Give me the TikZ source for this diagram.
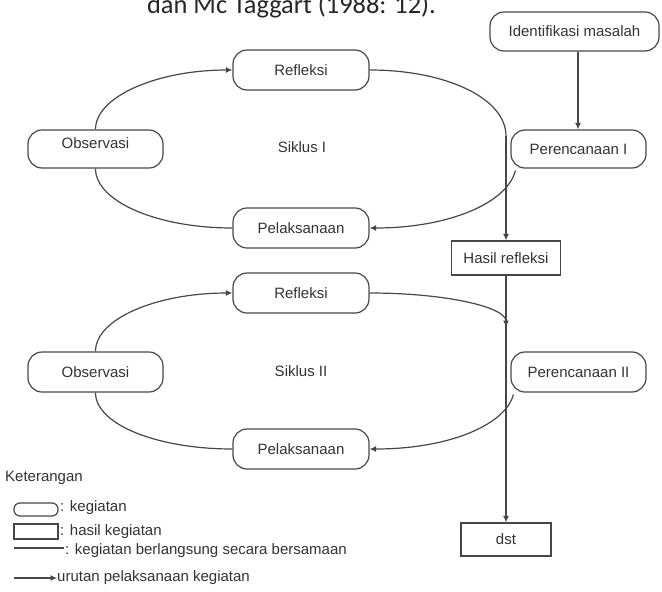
\documentclass[tikz,border=0pt]{standalone}
\usepackage{fontspec}
\setmainfont{Liberation Sans}
\newfontfamily\titlefont{Carlito}
\usetikzlibrary{arrows.meta}
\begin{document}
\begin{tikzpicture}[x=1pt,y=-1pt,
  ln/.style={draw=black!72, line width=1.2pt},
  txt/.style={font=\fontsize{15}{16}\selectfont, text=black!80},
  act/.style={ln, txt, rounded corners=14pt, minimum width=136pt, minimum height=40pt, inner sep=0pt},
  res/.style={ln, txt, inner sep=0pt},
  arr/.style={ln, -{Latex[length=6.5pt,width=6pt]}},
  lbl/.style={txt, inner sep=0pt, anchor=west}
]
\fill[white] (0,0) rectangle (662,592);
\clip (0,0) rectangle (662,592);

% title (cut off at top)
\node[anchor=base, inner sep=0pt, font=\titlefont\fontsize{26.4}{28}\selectfont, text=black!85] (title) at (291.5,13.3) {dan Mc Taggart (1988: 12).};

% nodes cycle I
\node[act, minimum width=169pt, minimum height=39pt] (ident) at (574.5,31.5) {Identifikasi masalah};
\node[act] (ref1) at (301,70) {Refleksi};
\node[act, minimum width=135pt, minimum height=38pt, text depth=11pt] (obs1) at (95.5,149) {Observasi};
\node[txt, inner sep=0pt] (sik1) at (302,147) {Siklus I};
\node[act, minimum width=135pt, minimum height=38pt] (per1) at (578.5,149) {Perencanaan I};
\node[act] (pel1) at (301,228) {Pelaksanaan};
\node[res, minimum width=109pt, minimum height=34pt] (hasil) at (506,258) {Hasil refleksi};

% nodes cycle II
\node[act] (ref2) at (301,293) {Refleksi};
\node[act, minimum width=135pt] (obs2) at (95.5,372) {Observasi};
\node[txt, inner sep=0pt] (sik2) at (301,371) {Siklus II};
\node[act, minimum width=135pt] (per2) at (578.5,372) {Perencanaan II};
\node[act] (pel2) at (301,449) {Pelaksanaan};
\node[res, minimum width=90pt, minimum height=33pt] (dst) at (506,539.5) {dst};

% junction coordinates on the vertical line
\coordinate (j1) at (506,136);
\coordinate (j2) at (506,327);

% connectors cycle I
\draw[arr] (ident.south -| 578,0) -- (per1.north -| 578,0);
\draw[arr] (obs1.north) .. controls +(0,-33) and +(-75,0) .. (ref1.west);
\draw[ln] (ref1.east) .. controls +(76,0) and +(0,-38) .. (j1);
\draw[arr] (j1) -- (hasil.north);
\draw[arr] ([xshift=5pt,yshift=-2pt]per1.south west) .. controls +(-8,32) and +(80,0) .. (pel1.east);
\draw[ln] (pel1.west) .. controls +(-75,0) and +(0,33) .. (obs1.south);

% connectors cycle II
\draw[arr] (hasil.south) -- (dst.north);
\draw[arr] (obs2.north) .. controls +(0,-33) and +(-75,0) .. (ref2.west);
\draw[arr] (ref2.east) .. controls +(76,0) and +(0,-20) .. (j2);
\draw[arr] ([xshift=3pt,yshift=-2pt]per2.south west) .. controls +(-8,30) and +(80,0) .. (pel2.east);
\draw[ln] (pel2.west) .. controls +(-75,0) and +(0,32) .. (obs2.south);

% legend
\node[lbl] (ket) at (5,478) {Keterangan};
\node[ln, rounded corners=6pt, minimum width=44pt, minimum height=13pt, inner sep=0pt] (lg1) at (36,509.5) {};
\node[lbl] (lg1t) at (60,508) {: kegiatan};
\node[ln, minimum width=44pt, minimum height=15pt, inner sep=0pt] (lg2) at (36,531.5) {};
\node[lbl] (lg2t) at (60,532) {: hasil kegiatan};
\coordinate (lg3a) at (14,548);
\coordinate (lg3b) at (64,548);
\draw[ln] (lg3a) -- (lg3b);
\node[lbl] (lg3t) at (65,551) {: kegiatan berlangsung secara bersamaan};
\coordinate (lg4a) at (14,578);
\node[lbl] (lg4t) at (57,578) {urutan pelaksanaan kegiatan};
\draw[arr] (lg4a) -- (lg4t.west);
\end{tikzpicture}
\end{document}
